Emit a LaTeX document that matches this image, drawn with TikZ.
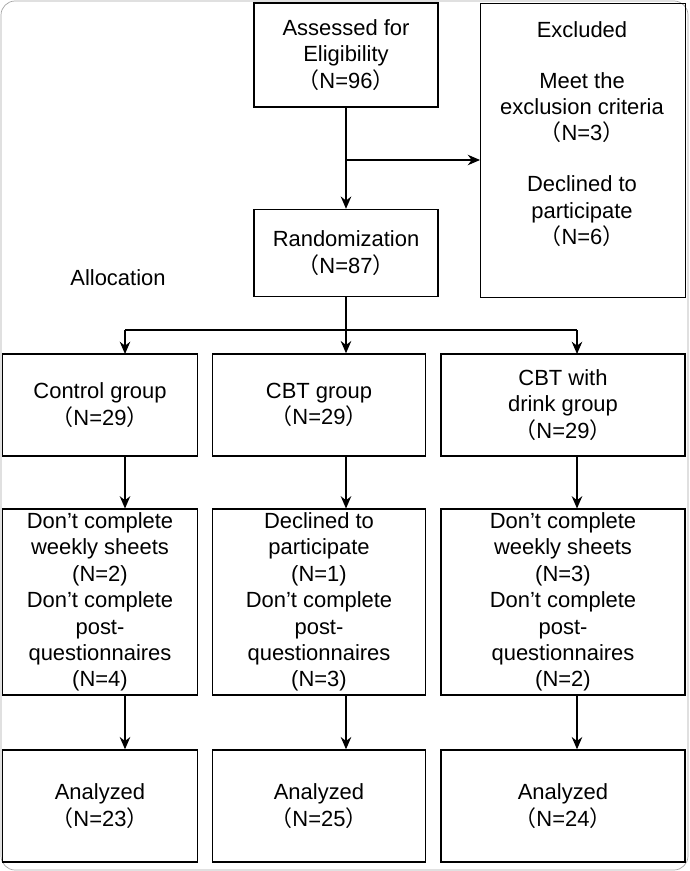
\documentclass[tikz,border=0pt]{standalone}
\usepackage{fontspec}
\setmainfont{Liberation Sans}
\newfontfamily\cjk{Noto Sans CJK SC}
\usetikzlibrary{arrows.meta,positioning}
\newcommand{\nn}[1]{{\cjk （}N=#1{\cjk ）}}

\begin{document}
\begin{tikzpicture}[x=0.02cm, y=-0.02cm,
    box/.style={rectangle, draw=black, thick, align=center, font=\fontsize{12.5}{15}\selectfont, inner sep=2pt},
    arrow/.style={-{Stealth[length=7pt,width=6pt]}, thick},
    label/.style={font=\fontsize{12.5}{15}\selectfont}
]
    \useasboundingbox (0,0) rectangle (689,871);
    \draw[gray!70, rounded corners=8pt] (1,1) rectangle (688,870);

    % Enrolment
    \node[box, minimum width=184*0.02cm, minimum height=104*0.02cm] (assess) at (346,55) {Assessed for\\Eligibility\\\nn{96}};
    \node[box, minimum width=205*0.02cm, minimum height=294*0.02cm, anchor=north west] (excl) at (480,3) {};
    \node[label, align=center, anchor=north] (excltxt) at (582,15) {Excluded\\[14pt]Meet the\\exclusion criteria\\\nn{3}\\[14pt]Declined to\\participate\\\nn{6}};
    \node[box, minimum width=184*0.02cm, minimum height=87*0.02cm] (random) at (346,253) {Randomization\\\nn{87}};
    \node[label] (alloc) at (118,278) {Allocation};

    % Allocation
    \node[box, minimum width=195*0.02cm, minimum height=102*0.02cm] (ctrl) at (100,405) {Control group\\\nn{29}};
    \node[box, minimum width=213*0.02cm, minimum height=102*0.02cm] (cbt) at (319,405) {CBT group\\\nn{29}};
    \node[box, minimum width=244*0.02cm, minimum height=102*0.02cm] (drink) at (563,405) {CBT with\\drink group\\\nn{29}};

    % Follow-up
    \node[box, minimum width=195*0.02cm, minimum height=185*0.02cm] (ctrlf) at (100,602) {Don’t complete\\weekly sheets\\(N=2)\\Don’t complete\\post-\\questionnaires\\(N=4)};
    \node[box, minimum width=213*0.02cm, minimum height=185*0.02cm] (cbtf) at (319,602) {Declined to\\participate\\(N=1)\\Don’t complete\\post-\\questionnaires\\(N=3)};
    \node[box, minimum width=244*0.02cm, minimum height=185*0.02cm] (drinkf) at (563,602) {Don’t complete\\weekly sheets\\(N=3)\\Don’t complete\\post-\\questionnaires\\(N=2)};

    % Analysis
    \node[box, minimum width=195*0.02cm, minimum height=112*0.02cm] (ctrla) at (100,806) {Analyzed\\\nn{23}};
    \node[box, minimum width=213*0.02cm, minimum height=112*0.02cm] (cbta) at (319,806) {Analyzed\\\nn{25}};
    \node[box, minimum width=244*0.02cm, minimum height=112*0.02cm] (drinka) at (563,806) {Analyzed\\\nn{24}};

    \coordinate (split) at (346,160);
    \coordinate (bar) at (346,330);

    % Arrows
    \draw[arrow] (assess) -- (random);
    \draw[arrow] (split) -- (split -| excl.west);
    \draw[thick] (random) -- (bar);
    \draw[thick] (125,330) -- (577,330);
    \draw[arrow] (125,330) -- (125,354);
    \draw[arrow] (bar) -- (cbt.north -| bar);
    \draw[arrow] (577,330) -- (577,354);
    \draw[arrow] (ctrl.south -| 125,0) -- (ctrlf.north -| 125,0);
    \draw[arrow] (cbt.south -| bar) -- (cbtf.north -| bar);
    \draw[arrow] (drink.south -| 577,0) -- (drinkf.north -| 577,0);
    \draw[arrow] (ctrlf.south -| 125,0) -- (ctrla.north -| 125,0);
    \draw[arrow] (cbtf.south -| bar) -- (cbta.north -| bar);
    \draw[arrow] (drinkf.south -| 577,0) -- (drinka.north -| 577,0);
\end{tikzpicture}
\end{document}
